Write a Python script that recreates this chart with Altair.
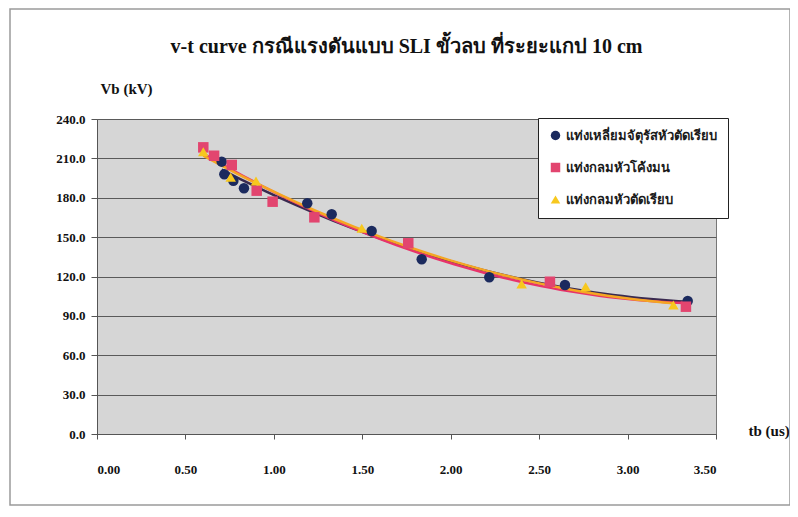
import altair as alt
import pandas as pd

series_names = ["แท่งเหลี่ยมจัตุรัสหัวตัดเรียบ", "แท่งกลมหัวโค้งมน", "แท่งกลมหัวตัดเรียบ"]

# series 1: square rod, flat tip (navy circles)
s1_t = [0.705, 0.720, 0.771, 0.831, 1.189, 1.327, 1.553, 1.836, 2.218, 2.646, 3.340]
s1_v = [207.5, 197.9, 193.0, 187.2, 175.8, 167.4, 154.7, 133.1, 119.4, 113.5, 101.3]
# series 2: round rod, rounded tip (pink squares)
s2_t = [0.601, 0.662, 0.762, 0.903, 0.993, 1.229, 1.760, 2.561, 3.330]
s2_v = [218.4, 212.0, 205.0, 185.4, 177.0, 165.1, 145.3, 116.0, 97.0]
# series 3: round rod, flat tip (yellow triangles)
s3_t = [0.601, 0.756, 0.899, 1.497, 2.401, 2.763, 3.259]
s3_v = [215.1, 195.6, 192.8, 156.7, 114.3, 112.2, 98.3]

x_ticks = [0.0, 0.5, 1.0, 1.5, 2.0, 2.5, 3.0, 3.5]
y_ticks = [0, 30, 60, 90, 120, 150, 180, 210, 240]

rows = []
for name, ts, vs in zip(series_names, [s1_t, s2_t, s3_t], [s1_v, s2_v, s3_v]):
    for t, v in zip(ts, vs):
        rows.append({"series": name, "tb": t, "vb": v})
df = pd.DataFrame(rows)

W, H = 619, 315
serif = "Liberation Serif"

x_enc = alt.X("tb:Q", scale=alt.Scale(domain=[0, 3.5], nice=False),
              axis=alt.Axis(values=x_ticks, format=".2f", grid=False, tickSize=5,
                            labelPadding=24, labelOverlap=False, title="tb (us)", titleAngle=0,
                            titleX=W + 32, titleY=-4, titleAlign="left",
                            titleBaseline="middle"))
y_enc = alt.Y("vb:Q", scale=alt.Scale(domain=[0, 240], nice=False),
              axis=alt.Axis(values=y_ticks, format=".1f", grid=True, tickSize=6,
                            labelPadding=6, labelOverlap=False, title="Vb (kV)", titleAngle=0,
                            titleX=3, titleY=-31, titleAlign="left",
                            titleBaseline="middle"))

base = alt.Chart(df)

points = base.mark_point(filled=True, opacity=1, size=110).encode(
    x=x_enc,
    y=y_enc,
    color=alt.Color("series:N",
                    scale=alt.Scale(domain=series_names, range=["#1b2a5e", "#e2456f", "#f7c81e"]),
                    legend=alt.Legend(title=None, orient="none", legendX=441, legendY=-1,
                                      fillColor="white", strokeColor="#222", padding=11,
                                      rowPadding=18, labelFont="Noto Sans", labelFontSize=13,
                                      labelFontWeight="bold", labelColor="#1a1a1a",
                                      symbolSize=90, symbolStrokeWidth=0, labelLimit=300)),
    shape=alt.Shape("series:N",
                    scale=alt.Scale(domain=series_names, range=["circle", "square", "triangle-up"])),
)

lines = base.transform_regression(
    "tb", "vb", groupby=["series"], method="poly", order=2
).transform_calculate(
    line_series="datum.series"
).mark_line(strokeWidth=2.5, clip=False).encode(
    x=x_enc,
    y=y_enc,
    stroke=alt.Stroke("line_series:N",
                      scale=alt.Scale(domain=series_names, range=["#3a2a50", "#e8336a", "#f5a623"]),
                      legend=None),
)

frame = alt.Chart(pd.DataFrame({"a": [0]})).mark_rect(
    fill=None, stroke="#9a9a9a", strokeWidth=1.5, clip=False
).encode(x=alt.value(-87), x2=alt.value(W + 74), y=alt.value(-110), y2=alt.value(H + 71))

chart = alt.layer(frame, lines, points).resolve_scale(
    stroke="independent"
).properties(
    width=W, height=H,
    title=alt.Title("v-t curve กรณีแรงดันแบบ SLI ขั้วลบ ที่ระยะแกป 10 cm",
                    font=serif, fontSize=20, fontWeight="bold", color="#111",
                    anchor="middle", offset=-49),
    autosize=alt.AutoSizeParams(type="none"),
    padding={"left": 89, "top": 111, "right": 74, "bottom": 74},
    background="white",
).configure_view(
    fill="#d6d6d6", stroke="#777", strokeWidth=1
).configure_axis(
    labelFont=serif, labelFontSize=13, labelFontWeight="bold", labelColor="#111",
    titleFont=serif, titleFontSize=15, titleFontWeight="bold", titleColor="#111",
    domainColor="#555", tickColor="#555", gridColor="#5a5a5a", gridWidth=1,
)

chart.save("out.html", embed_options={"renderer": "svg", "actions": False})
